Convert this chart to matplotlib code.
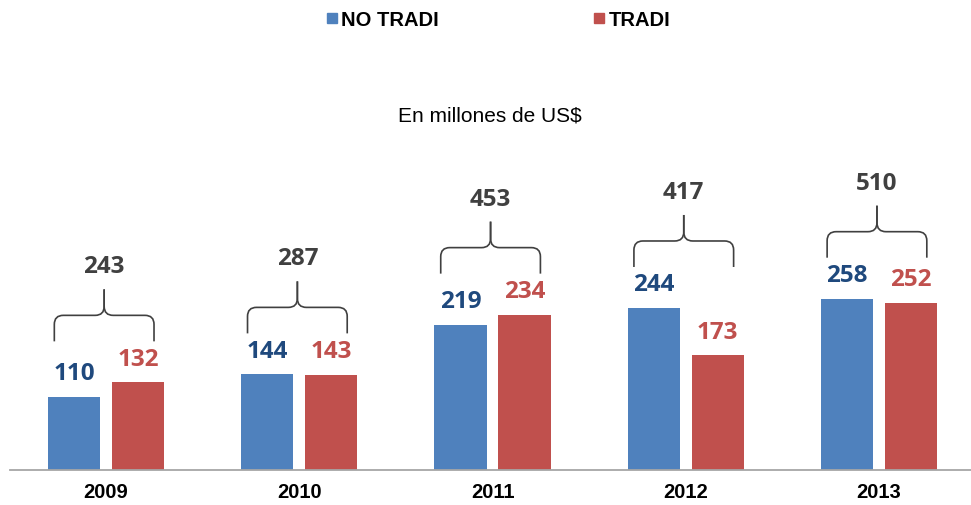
import matplotlib.pyplot as plt
from matplotlib.patches import Rectangle, PathPatch
from matplotlib.path import Path
import numpy as np

years = ["2009", "2010", "2011", "2012", "2013"]
no_tradi = [110, 144, 219, 244, 258]
tradi = [132, 143, 234, 173, 252]
totals = [243, 287, 453, 417, 510]

BLUE = "#4F81BD"
RED = "#C0504D"
BLUE_TXT = "#1F497D"
GRAY_TXT = "#404040"
LBL_FONT = "Open Sans"

W, H = 971, 506
fig = plt.figure(figsize=(W / 100, H / 100), dpi=100)

ax_left, ax_w, ax_bottom, ax_top = 9.5, 966, 471, 139
ax = fig.add_axes([ax_left / W, (H - ax_bottom) / H, ax_w / W, (ax_bottom - ax_top) / H])
ax.set_xlim(-0.5, 4.5)
ax.set_ylim(0, 500)

x = np.arange(len(years))
bw = 0.27
off = 0.166
ax.bar(x - off, no_tradi, bw, color=BLUE)
ax.bar(x + off, tradi, bw, color=RED)

for xi, v in zip(x, no_tradi):
    ax.annotate(str(v), (xi - off, v), xytext=(0, 17), textcoords="offset points",
                ha="center", va="center", fontsize=17.5, fontweight="bold",
                family=LBL_FONT, color=BLUE_TXT)
for xi, v in zip(x, tradi):
    ax.annotate(str(v), (xi + off, v), xytext=(0, 17), textcoords="offset points",
                ha="center", va="center", fontsize=17.5, fontweight="bold",
                family=LBL_FONT, color=RED)

# braces over each pair, built in data units from pixel offsets
px_x = 5 / ax_w                    # data units per pixel, x
px_y = 500 / (ax_bottom - ax_top)  # data units per pixel, y
rx, ry = 9 * px_x, 9 * px_y
for xi, a, b, tot in zip(x, no_tradi, tradi, totals):
    top = max(a, b)
    yb = top + 41 * px_y
    yh = top + 67 * px_y
    yt = top + 93 * px_y
    xc = xi - 0.01
    for side in (-1, 1):
        xe = xc + side * 0.258
        verts = [(xe, yb), (xe, yh - ry), (xe, yh), (xe - side * rx, yh),
                 (xc + side * rx, yh), (xc, yh), (xc, yh + ry), (xc, yt)]
        codes = [Path.MOVETO, Path.LINETO, Path.CURVE3, Path.CURVE3,
                 Path.LINETO, Path.CURVE3, Path.CURVE3, Path.LINETO]
        ax.add_patch(PathPatch(Path(verts, codes), fill=False, edgecolor=GRAY_TXT, lw=1.2))
    ax.text(xc, top + 116 * px_y, str(tot), ha="center", va="center", fontsize=17.5,
            fontweight="bold", family=LBL_FONT, color=GRAY_TXT)

for s in ["left", "right", "top"]:
    ax.spines[s].set_visible(False)
ax.spines["bottom"].set_color("#A6A6A6")
ax.spines["bottom"].set_linewidth(1.3)
ax.set_yticks([])
ax.set_xticks(x)
ax.set_xticklabels(years, fontsize=14.5, fontweight="bold", family="Liberation Sans")
ax.tick_params(axis="x", length=0, pad=9)

# legend
def fx(px):
    return px / W

def fy(py):
    return 1 - py / H

fig.add_artist(Rectangle((fx(327), fy(24)), 10 / W, 10 / H, color=BLUE, transform=fig.transFigure))
fig.text(fx(341), fy(20), "NO TRADI", ha="left", va="center", fontsize=14.5,
         fontweight="bold", family="Liberation Sans")
fig.add_artist(Rectangle((fx(594), fy(24)), 10 / W, 10 / H, color=RED, transform=fig.transFigure))
fig.text(fx(609), fy(20), "TRADI", ha="left", va="center", fontsize=14.5,
         fontweight="bold", family="Liberation Sans")

fig.text(fx(490), fy(116), "En millones de US$", ha="center", va="center",
         fontsize=15, family="Liberation Sans")

fig.savefig("out.png", dpi=100)
